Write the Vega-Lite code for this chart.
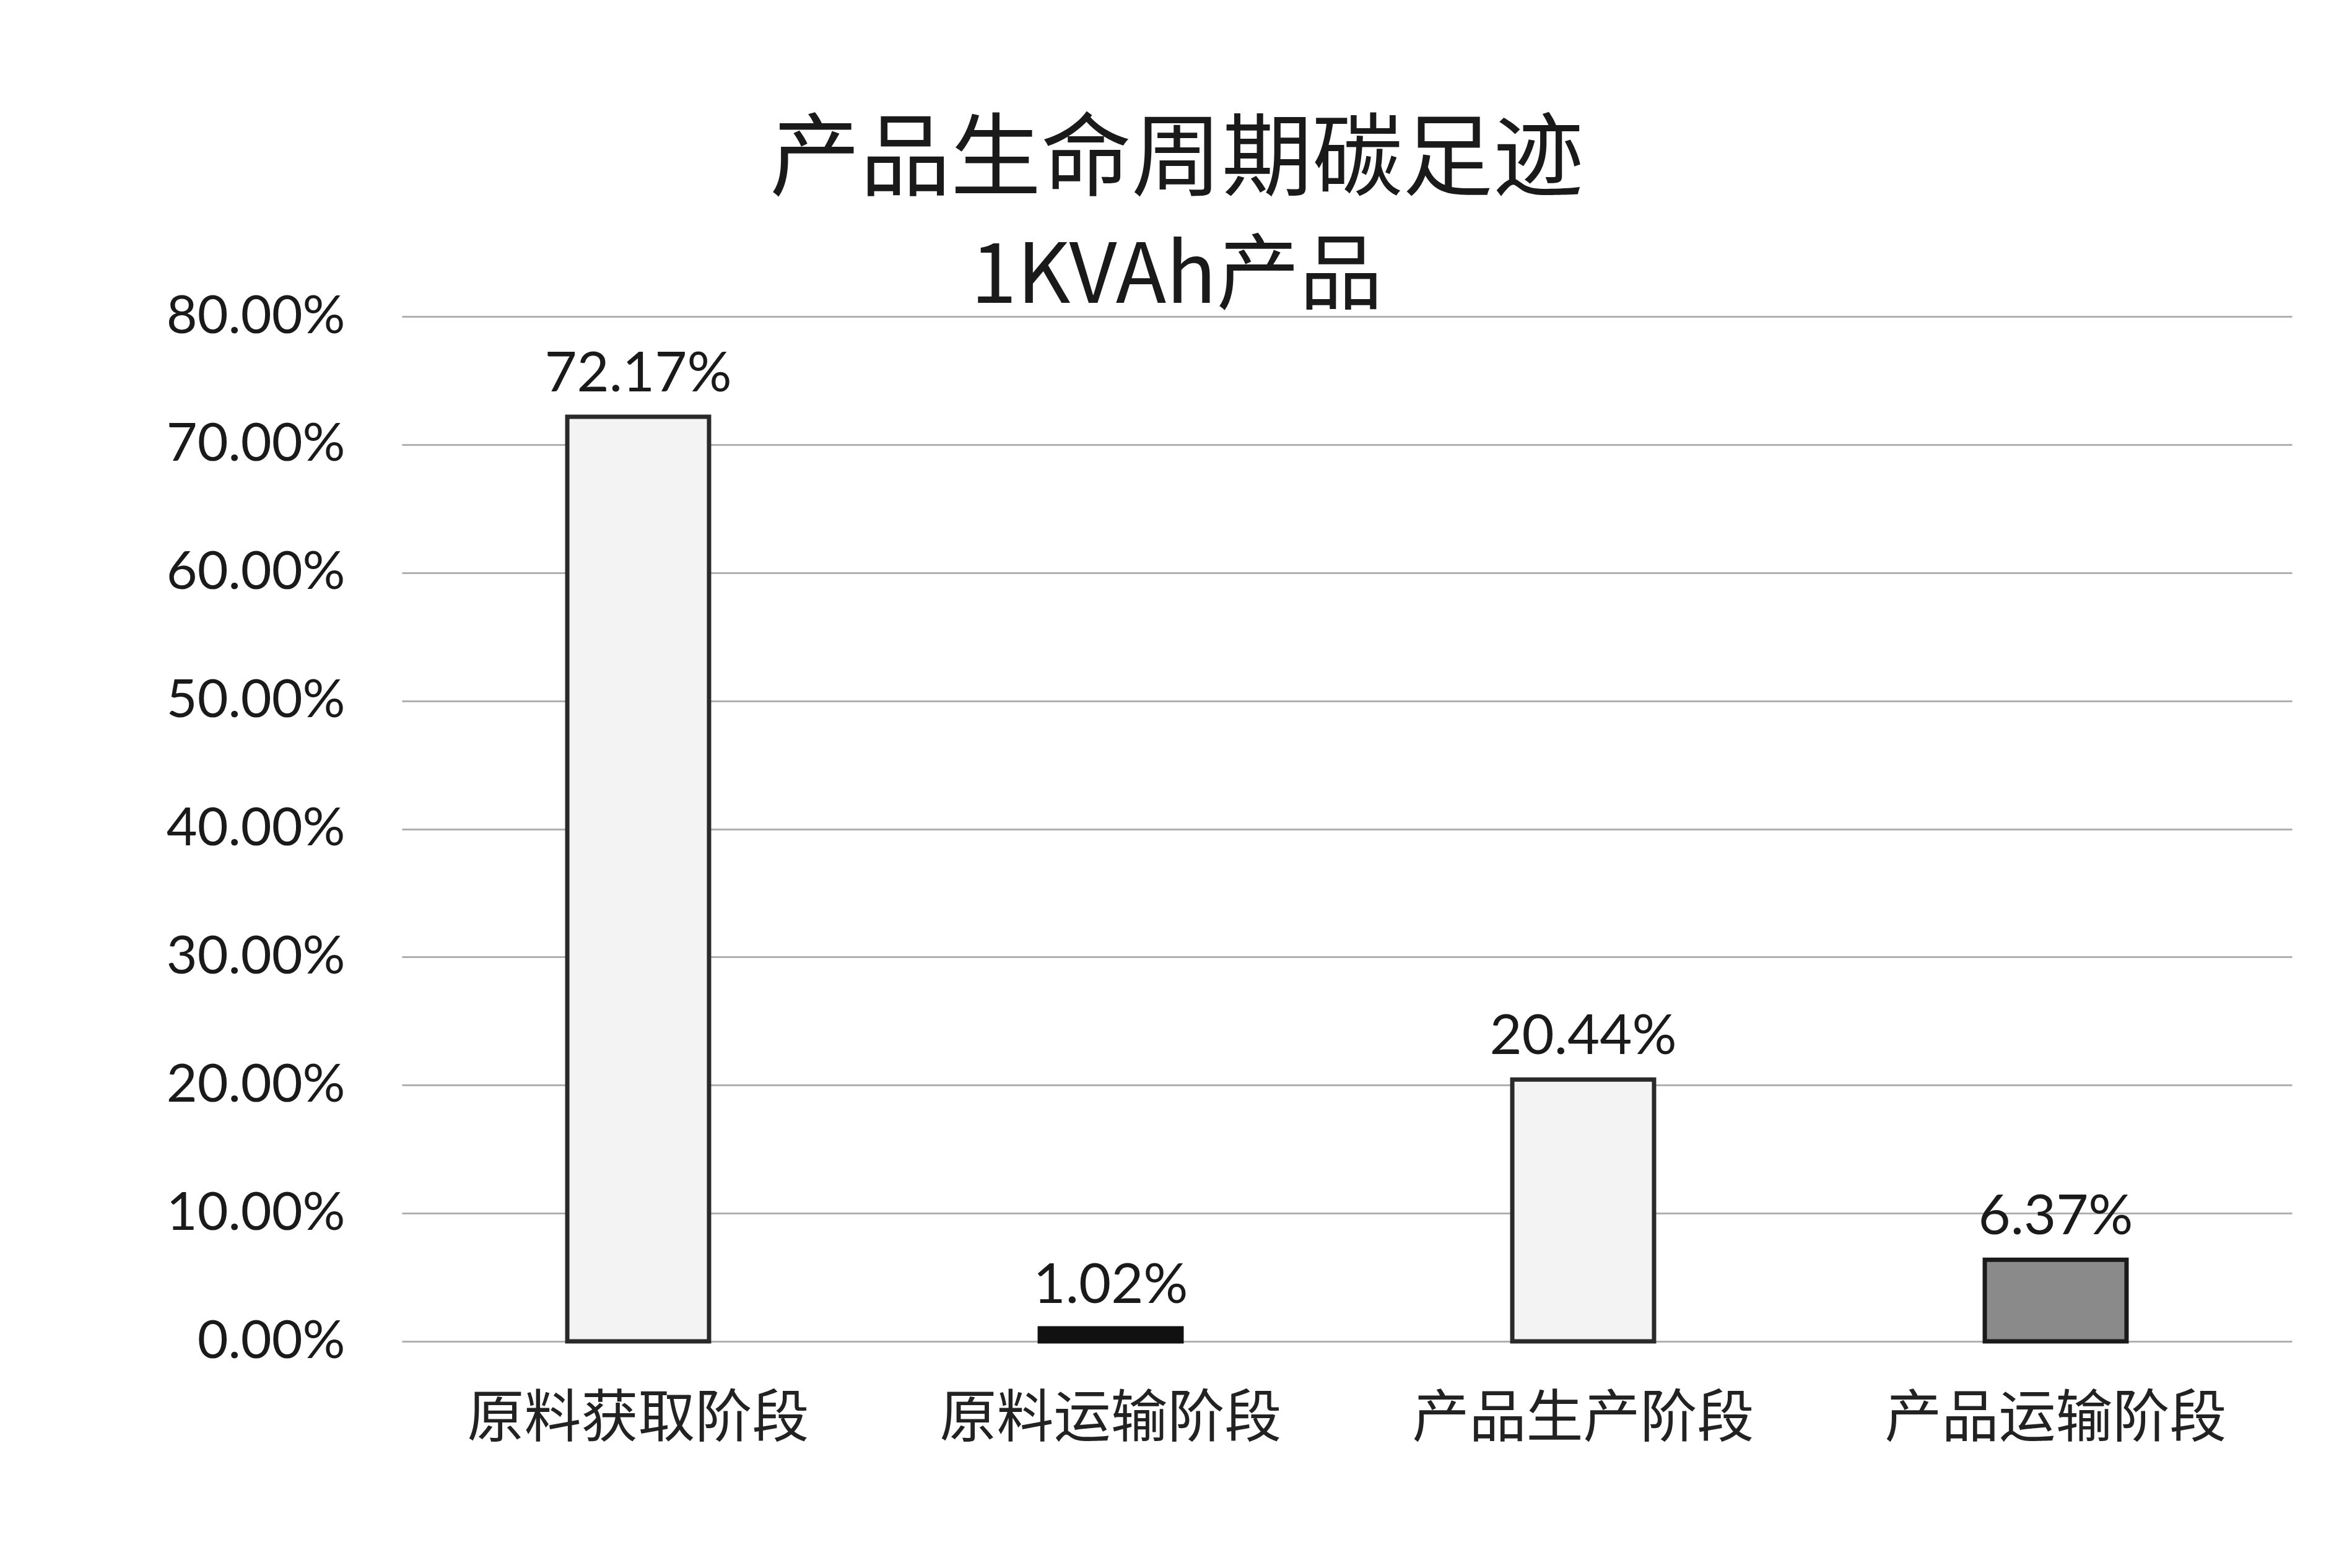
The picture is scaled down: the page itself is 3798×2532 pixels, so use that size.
{
  "$schema": "https://vega.github.io/schema/vega-lite/v6.json",
  "width": 3052,
  "height": 1655,
  "padding": {"left": 149, "top": 187, "right": 97, "bottom": 40},
  "background": "white",
  "title": {
    "text": "产品生命周期碳足迹",
    "subtitle": "1KVAh产品",
    "font": "Noto Sans CJK SC",
    "fontSize": 146,
    "fontWeight": "normal",
    "color": "#1a1a1a",
    "subtitleFont": "Noto Sans CJK SC",
    "subtitleFontSize": 134,
    "subtitleColor": "#1a1a1a",
    "subtitlePadding": 48,
    "anchor": "middle",
    "frame": "group",
    "dx": -275,
    "offset": -50
  },
  "data": {
    "values": [
      {"stage": "原料获取阶段", "value": 0.7217},
      {"stage": "原料运输阶段", "value": 0.0102},
      {"stage": "产品生产阶段", "value": 0.2044},
      {"stage": "产品运输阶段", "value": 0.0637}
    ]
  },
  "encoding": {
    "x": {
      "field": "stage",
      "type": "nominal",
      "sort": null,
      "scale": {"paddingInner": 0.7, "paddingOuter": 0.35},
      "axis": {
        "title": null,
        "labelAngle": 0,
        "labelLimit": 0,
        "labelFont": "Noto Sans CJK SC",
        "labelFontSize": 92,
        "labelColor": "#222222",
        "labelPadding": 80,
        "ticks": false,
        "domain": false,
        "grid": false
      }
    },
    "y": {
      "field": "value",
      "type": "quantitative",
      "scale": {"domain": [0, 0.8], "nice": false},
      "axis": {
        "title": null,
        "format": ".2%",
        "values": [0, 0.1, 0.2, 0.3, 0.4, 0.5, 0.6, 0.7, 0.8],
        "labelLimit": 0,
        "labelFont": "Lato",
        "labelFontSize": 86,
        "labelColor": "#1a1a1a",
        "labelPadding": 92,
        "ticks": false,
        "domain": false,
        "grid": true,
        "gridColor": "#b0b0b0",
        "gridWidth": 3,
        "minExtent": 500,
        "maxExtent": 500
      }
    }
  },
  "layer": [
    {
      "mark": {"type": "bar", "strokeWidth": 7},
      "encoding": {
        "color": {
          "field": "stage",
          "type": "nominal",
          "scale": {
            "domain": ["原料获取阶段", "原料运输阶段", "产品生产阶段", "产品运输阶段"],
            "range": ["#f3f3f3", "#111111", "#f3f3f3", "#8a8a8a"]
          },
          "legend": null
        },
        "stroke": {
          "field": "stage",
          "type": "nominal",
          "scale": {
            "domain": ["原料获取阶段", "原料运输阶段", "产品生产阶段", "产品运输阶段"],
            "range": ["#2a2a2a", "#111111", "#2a2a2a", "#1a1a1a"]
          },
          "legend": null
        }
      }
    },
    {
      "mark": {"type": "text", "baseline": "bottom", "dy": -22, "font": "Lato", "fontSize": 90, "color": "#1a1a1a"},
      "encoding": {
        "text": {"field": "value", "type": "quantitative", "format": ".2%"}
      }
    }
  ],
  "config": {"view": {"stroke": null}}
}
